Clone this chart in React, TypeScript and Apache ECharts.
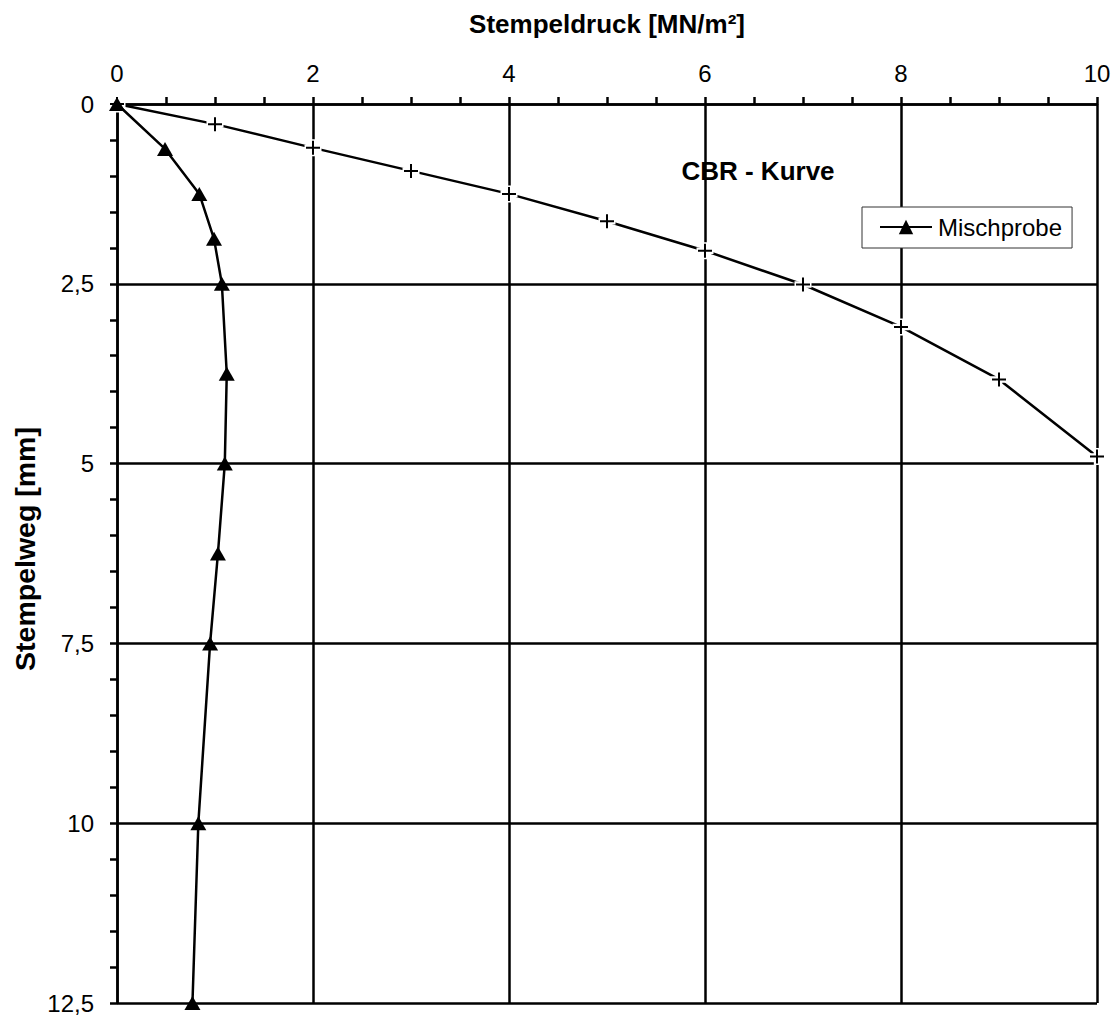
import React, { useEffect, useRef } from "react";
import * as echarts from "echarts";

// CBR reference curve (Stempeldruck [MN/m²] vs Stempelweg [mm])
const cbrPressure = [0, 1, 2, 3, 4, 5, 6, 7, 8, 9, 10];
const cbrDepth = [0, 0.28, 0.61, 0.93, 1.25, 1.63, 2.04, 2.51, 3.1, 3.83, 4.9];

// Mischprobe measurement
const mixPressure = [0, 0.49, 0.84, 0.99, 1.07, 1.12, 1.1, 1.03, 0.95, 0.83, 0.77];
const mixDepth = [0, 0.625, 1.25, 1.875, 2.5, 3.75, 5, 6.25, 7.5, 10, 12.5];

const xTitle = "Stempeldruck [MN/m²]";
const yTitle = "Stempelweg [mm]";
const curveLabel = "CBR - Kurve";
const seriesName = "Mischprobe";

const FONT = "'Liberation Sans', Arial, sans-serif";

const PLUS = "path://M6,0H8V6H14V8H8V14H6V8H0V6H6Z";
const PLUS_HALO = "path://M5,0H11V5H16V11H11V16H5V11H0V5H5Z";

export default function App() {
  const ref = useRef<HTMLDivElement>(null);

  useEffect(() => {
    document.body.style.margin = "0";
    if (!ref.current) return;
    const chart = echarts.init(ref.current, null, { renderer: "svg" });

    const cbrData = cbrPressure.map((p, i) => [p, cbrDepth[i]]);
    const mixData = mixPressure.map((p, i) => [p, mixDepth[i]]);

    const axisLineStyle = { color: "#000", width: 2.5 };

    chart.setOption({
      animation: false,
      backgroundColor: "#fff",
      grid: { left: 117, top: 104, right: 19, bottom: 11, containLabel: false },
      xAxis: {
        type: "value",
        position: "top",
        min: 0,
        max: 10,
        interval: 2,
        axisLine: { show: true, onZero: false, lineStyle: axisLineStyle },
        axisTick: { show: true, inside: false, length: 7, lineStyle: axisLineStyle },
        minorTick: { show: true, splitNumber: 4, length: 7, lineStyle: axisLineStyle },
        splitLine: { show: true, lineStyle: axisLineStyle },
        axisLabel: {
          color: "#000",
          fontFamily: FONT,
          fontSize: 24,
          margin: 19,
        },
      },
      yAxis: {
        type: "value",
        inverse: true,
        min: 0,
        max: 12.5,
        interval: 2.5,
        axisLine: { show: true, onZero: false, lineStyle: axisLineStyle },
        axisTick: { show: true, inside: false, length: 7, lineStyle: axisLineStyle },
        minorTick: { show: true, splitNumber: 5, length: 7, lineStyle: axisLineStyle },
        splitLine: { show: true, lineStyle: axisLineStyle },
        axisLabel: {
          color: "#000",
          fontFamily: FONT,
          fontSize: 24,
          margin: 23,
          formatter: (v: number) => String(v).replace(".", ","),
        },
      },
      legend: {
        data: [seriesName],
        left: 862,
        top: 207,
        orient: "vertical",
        padding: [8, 10, 9, 17],
        itemWidth: 52,
        itemHeight: 18,
        itemGap: 0,
        backgroundColor: "#fff",
        borderColor: "#333",
        borderWidth: 1,
        borderRadius: 0,
        textStyle: { color: "#000", fontFamily: FONT, fontSize: 24, padding: [0, 0, 0, 1] },
      },
      graphic: [
        {
          type: "text",
          x: 607,
          y: 24,
          style: {
            text: xTitle,
            fill: "#000",
            font: `bold 26px ${FONT}`,
            textAlign: "center",
            textVerticalAlign: "middle",
          },
        },
        {
          type: "text",
          x: 25,
          y: 549,
          rotation: Math.PI / 2,
          style: {
            text: yTitle,
            fill: "#000",
            font: `bold 28.5px ${FONT}`,
            textAlign: "center",
            textVerticalAlign: "middle",
          },
        },
        {
          type: "text",
          x: 758,
          y: 171,
          style: {
            text: curveLabel,
            fill: "#000",
            font: `bold 26px ${FONT}`,
            textAlign: "center",
            textVerticalAlign: "middle",
          },
        },
      ],
      series: [
        {
          name: "CBR",
          type: "line",
          data: cbrData,
          showSymbol: false,
          symbol: "none",
          lineStyle: { color: "#000", width: 2.5 },
          z: 2,
          silent: true,
        },
        {
          name: "CBR-halo",
          type: "scatter",
          data: cbrData,
          symbol: PLUS_HALO,
          symbolSize: 17,
          itemStyle: { color: "#fff", opacity: 1 },
          z: 3,
          silent: true,
        },
        {
          name: "CBR-plus",
          type: "scatter",
          data: cbrData,
          symbol: PLUS,
          symbolSize: 14,
          itemStyle: { color: "#000", opacity: 1 },
          z: 4,
          silent: true,
        },
        {
          name: seriesName,
          type: "line",
          data: mixData,
          symbol: "triangle",
          symbolSize: [16, 14],
          showAllSymbol: true,
          lineStyle: { color: "#000", width: 2.5 },
          itemStyle: { color: "#000", borderWidth: 0 },
          z: 5,
        },
      ],
    });

    return () => chart.dispose();
  }, []);

  return <div ref={ref} style={{ width: 1116, height: 1015 }} />;
}
